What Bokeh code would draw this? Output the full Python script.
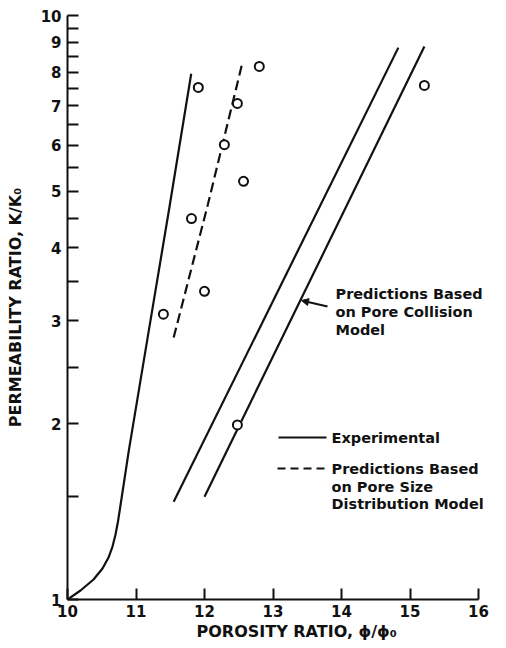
import math
from bokeh.plotting import figure
from bokeh.models import Range1d, FixedTicker, Label, Arrow, NormalHead, Title
from bokeh.embed import file_html
from bokeh.resources import INLINE

# ---------------- data ----------------
exp_x = [1.0000, 1.0190, 1.0380, 1.0511, 1.0599, 1.0657, 1.0701, 1.0737, 1.0771,
         1.0895, 1.1171, 1.1488, 1.1806]
exp_y = [1.000, 1.036, 1.082, 1.130, 1.180, 1.232, 1.292, 1.360, 1.443,
         1.799, 2.813, 4.696, 7.947]

size_model_x = [1.155, 1.205, 1.255]
size_model_y = [2.81, 4.75, 8.27]

collision_a_x = [1.155, 1.483]
collision_a_y = [1.47, 8.81]
collision_b_x = [1.200, 1.521]
collision_b_y = [1.50, 8.85]

obs_x = [1.140, 1.181, 1.191, 1.200, 1.229, 1.248, 1.257, 1.280, 1.248, 1.521]
obs_y = [3.08, 4.49, 7.53, 3.37, 6.01, 7.07, 5.20, 8.18, 1.99, 7.59]

x_ticks = [1.0, 1.1, 1.2, 1.3, 1.4, 1.5, 1.6]
x_tick_labels = ["10", "11", "12", "13", "14", "15", "16"]
y_ticks = [1, 1.5, 2, 2.5, 3, 3.5, 4, 4.5, 5, 5.5, 6, 6.5, 7, 7.5, 8, 8.5, 9, 9.5, 10]
y_tick_labels = ["1", "", "2", "", "3", "", "4", "", "5", "", "6", "", "7", "", "8", "", "9", "", "10"]

# ---------------- layout (canvas pixels) ----------------
W, H = 498, 640
FL, AXR, FT, FB = 67, 478, 15, 599  # frame left, axis right end, frame top, frame bottom


def px2x(px):
    return 1.0 + (px - FL) * 0.6 / (AXR - FL)


def py2y(py):
    return 10 ** ((FB - py) / (FB - FT))


FONT = "DejaVu Sans"
INK = "#111111"

p = figure(width=W, height=H, output_backend="svg", toolbar_location=None,
           x_range=Range1d(1.0, px2x(W)), y_range=Range1d(1, 10), y_axis_type="log",
           min_border_left=FL, min_border_right=0,
           min_border_top=FT, min_border_bottom=H - FB)
p.outline_line_color = None
p.grid.visible = False
p.background_fill_color = "white"
p.border_fill_color = "white"

# axes
p.xaxis.ticker = FixedTicker(ticks=x_ticks, minor_ticks=[])
p.xaxis.major_label_overrides = {t: s for t, s in zip(x_ticks, x_tick_labels)}
p.xaxis.bounds = (x_ticks[0], x_ticks[-1])
p.yaxis.ticker = FixedTicker(ticks=y_ticks, minor_ticks=[])
p.yaxis.major_label_overrides = {t: s for t, s in zip(y_ticks, y_tick_labels)}
for ax in (p.xaxis, p.yaxis):
    ax.axis_line_width = 2
    ax.axis_line_color = INK
    ax.major_tick_line_width = 2
    ax.major_tick_line_color = INK
    ax.major_tick_in = 11
    ax.major_tick_out = 0
    ax.minor_tick_line_color = None
    ax.major_label_text_font = FONT
    ax.major_label_text_font_style = "bold"
    ax.major_label_text_font_size = "15px"
    ax.major_label_text_color = INK
p.xaxis.major_label_standoff = 5
p.yaxis.major_label_standoff = 6

p.yaxis.axis_label = "PERMEABILITY RATIO, K/K\u2080"
p.yaxis.axis_label_text_font = FONT
p.yaxis.axis_label_text_font_style = "bold"
p.yaxis.axis_label_text_font_size = "16px"
p.yaxis.axis_label_text_color = INK
p.yaxis.axis_label_standoff = 13

p.add_layout(Title(text="POROSITY RATIO, \u03d5/\u03d5\u2080", align="left", offset=129,
                   standoff=0, text_font=FONT, text_font_style="bold",
                   text_font_size="16px", text_color=INK), "below")

# curves
p.line(exp_x, exp_y, line_width=2.2, line_color=INK)
p.line(size_model_x, size_model_y, line_width=2.2, line_color=INK, line_dash="10 5")
p.line(collision_a_x, collision_a_y, line_width=2.2, line_color=INK)
p.line(collision_b_x, collision_b_y, line_width=2.2, line_color=INK)
p.scatter(obs_x, obs_y, marker="circle", size=9, fill_color="white",
          line_color=INK, line_width=2)


def text(px, py, s, size="14.5px"):
    p.add_layout(Label(x=px2x(px), y=py2y(py), text=s,
                       text_font=FONT, text_font_style="bold", text_font_size=size,
                       text_color=INK, text_align="left", text_baseline="middle"))


# collision model annotation with pointer
text(335, 293, "Predictions Based")
text(335, 311, "on Pore Collision")
text(335, 329, "Model")
p.add_layout(Arrow(x_start=px2x(327), y_start=py2y(306), x_end=px2x(301), y_end=py2y(300),
                   line_width=2, line_color=INK,
                   end=NormalHead(size=7, fill_color=INK, line_color=INK)))

# legend
p.add_layout(Arrow(x_start=px2x(278), y_start=py2y(437), x_end=px2x(326), y_end=py2y(437),
                   line_width=2, line_color=INK, end=None))
text(331, 437, "Experimental")
p.add_layout(Arrow(x_start=px2x(277), y_start=py2y(468), x_end=px2x(328), y_end=py2y(468),
                   line_width=2, line_color=INK, line_dash="8 5", end=None))
text(331, 468, "Predictions Based")
text(331, 486, "on Pore Size")
text(331, 503, "Distribution Model")

open("out.html", "w").write(file_html(p, INLINE))
